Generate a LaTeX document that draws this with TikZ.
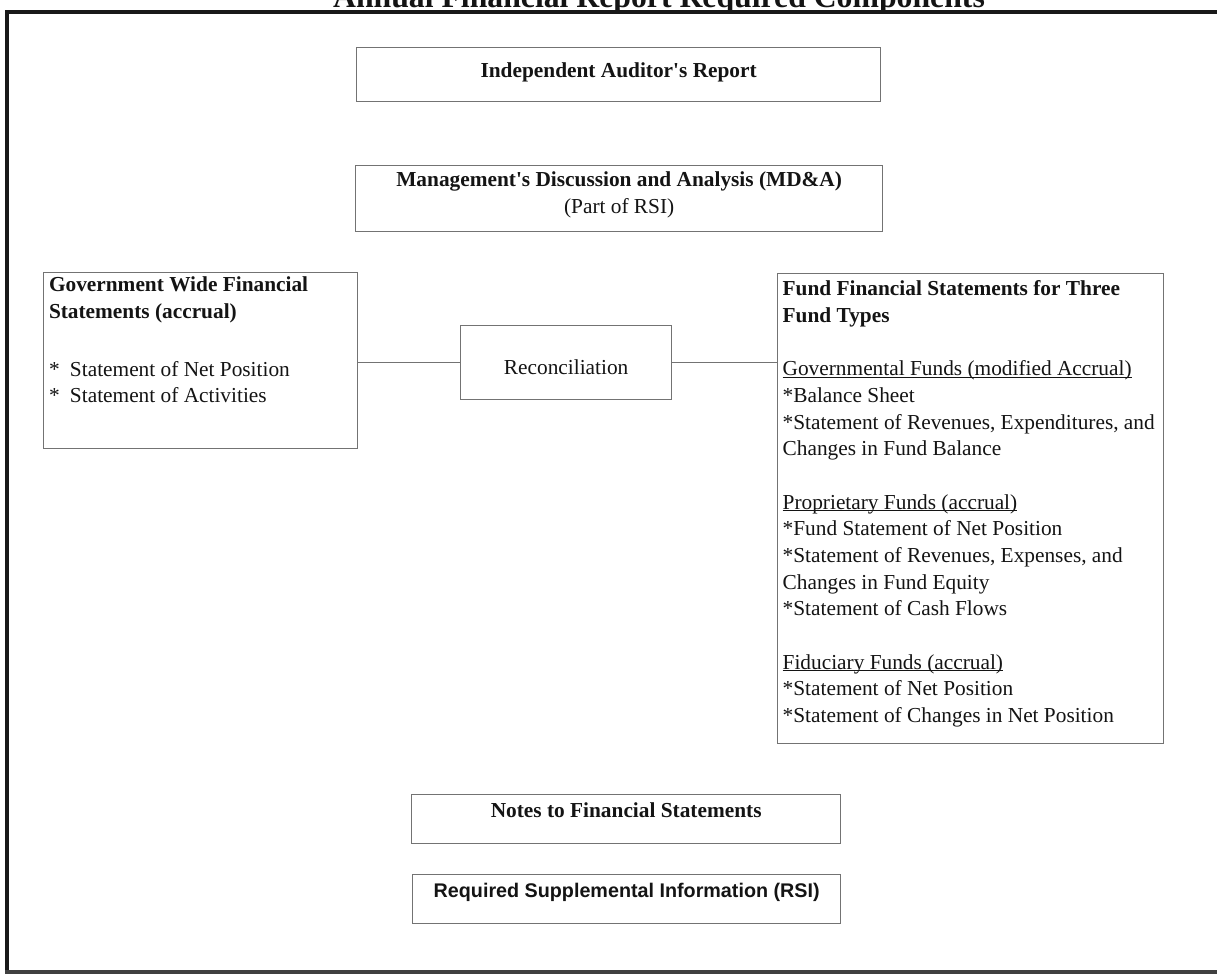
\documentclass[tikz,border=0pt]{standalone}
\usepackage{fontspec}
\setmainfont{Liberation Serif}
\newfontfamily\arialfont{Liberation Sans}
\definecolor{boxgray}{gray}{0.45}
\definecolor{inkc}{gray}{0.08}
\newcommand\bx[4]{\parbox[c][#1][t]{#2}{\vspace*{#3}#4}}
\newcommand\ulx[1]{\leavevmode\setbox0=\hbox{#1}\rlap{\rule[-1.7pt]{\wd0}{0.6pt}}\box0}
\newcommand\itm[1]{\makebox[15.75pt][l]{*}#1}
\newcommand\st{\relax*}
\begin{document}
\begin{tikzpicture}[x=0.75pt,y=-0.75pt,
  box/.style={draw=boxgray, line width=1pt, inner sep=0pt, anchor=north west, text=inkc,
     font=\fontsize{16}{20}\selectfont},
  lbox/.style={box, inner xsep=4pt},
  conn/.style={draw=boxgray, line width=0.9pt},
  frame/.style={line width=2.4pt, draw=black!90}]
\useasboundingbox (0,0) rectangle (1217,975);
\fill[white] (0,0) rectangle (1217,975);
% title (cut off by top edge)
\node[anchor=base, inner sep=0pt, text=inkc, font=\fontsize{23.8}{28}\selectfont\bfseries] (title) at (659,7)
  {Annual Financial Report Required Components};
% outer frame
\draw[frame, line width=2.6pt] (5,12) -- (1217,12);
\draw[frame] (7,11) -- (7,974);
\draw[frame, draw=black!75] (5,972) -- (1217,972);
% boxes
\node[box] (aud) at (356,47)
  {\bx{40.5pt}{393pt}{8.5pt}{\centering\strut\bfseries Independent Auditor\textquotesingle s Report}};
\node[box] (mda) at (355,165)
  {\bx{49.5pt}{395.25pt}{1.75pt}{\centering\strut\textbf{Management\textquotesingle s Discussion and Analysis (MD\&A)}\\(Part of RSI)}};
\node[lbox] (gov) at (43,272)
  {\bx{132pt}{227.5pt}{0pt}{\raggedright\strut\textbf{Government Wide Financial}\\
   \textbf{Statements (accrual)}\\[23.5pt]
   \itm{Statement of Net Position}\\
   \itm{Statement of Activities}}};
\node[box] (rec) at (460,325)
  {\bx{55.5pt}{158.25pt}{22.5pt}{\centering\strut Reconciliation}};
\node[lbox, inner xsep=3.75pt] (fund) at (777,273)
  {\bx{352.5pt}{282pt}{2.5pt}{\raggedright\strut\textbf{Fund Financial Statements for Three}\\
   \textbf{Fund Types}\\[20pt]
   \ulx{Governmental Funds (modified Accrual)}\\
   \st Balance Sheet\\
   \st Statement of Revenues, Expenditures, and\\
   Changes in Fund Balance\\[20pt]
   \ulx{Proprietary Funds (accrual)}\\
   \st Fund Statement of Net Position\\
   \st Statement of Revenues, Expenses, and\\
   Changes in Fund Equity\\
   \st Statement of Cash Flows\\[20pt]
   \ulx{Fiduciary Funds (accrual)}\\
   \st Statement of Net Position\\
   \st Statement of Changes in Net Position}};
\node[box] (notes) at (411,794)
  {\bx{36.75pt}{321.75pt}{3.25pt}{\centering\strut\bfseries Notes to Financial Statements}};
\node[box, font=\arialfont\fontsize{14.8}{18}\selectfont\bfseries] (rsi) at (412,874)
  {\bx{36.75pt}{321pt}{4.3pt}{\centering\strut Required Supplemental Information (RSI)}};
% connectors
\draw[conn] (gov.east |- rec.west) -- (rec.west);
\draw[conn] (rec.east) -- (rec.east -| fund.west);
\end{tikzpicture}
\end{document}
